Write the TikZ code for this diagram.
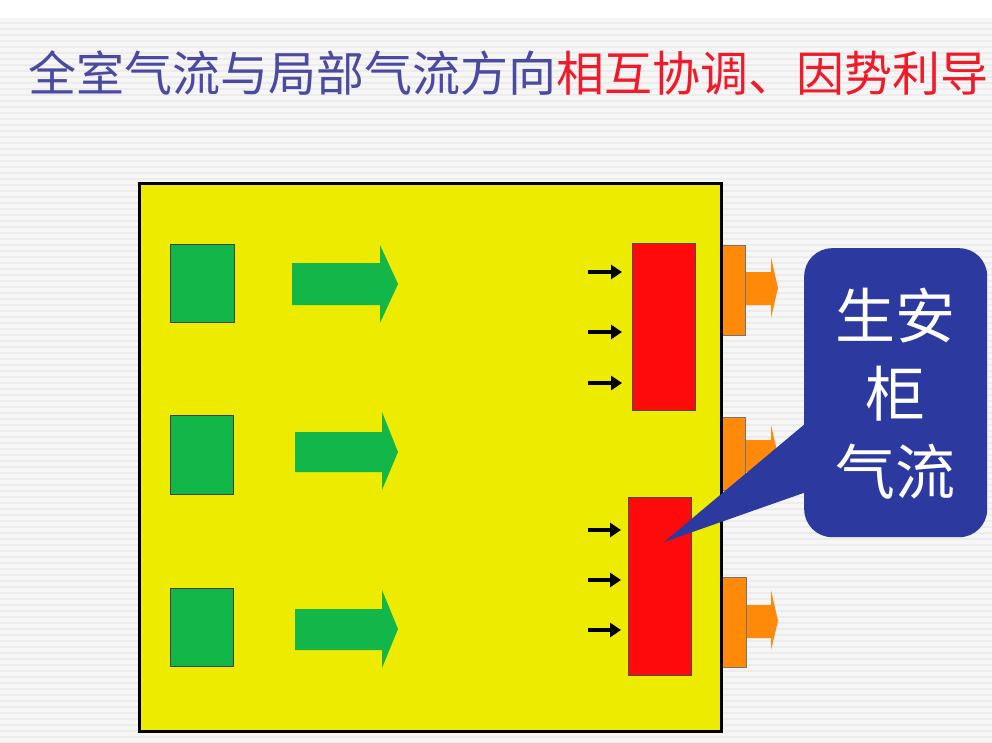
\documentclass[tikz,border=0pt]{standalone}
\usepackage{fontspec}
\newfontfamily\cjk{Noto Sans CJK SC}
\usetikzlibrary{arrows.meta}
\definecolor{bgc}{HTML}{F6F6F6}
\definecolor{stripec}{HTML}{ECECEC}
\definecolor{boxyellow}{HTML}{EDEB00}
\definecolor{gr}{HTML}{12B649}
\definecolor{rd}{HTML}{FF0A0A}
\definecolor{org}{HTML}{FF8A0A}
\definecolor{calloutblue}{HTML}{2C3AA0}
\definecolor{titleblue}{HTML}{4A4AA0}
\definecolor{titlered}{HTML}{EE1C2A}
\tikzset{
  px/.style={x=1pt,y=-1pt},
  greenbox/.style={draw=black!75,line width=1.2pt,fill=gr,inner sep=0pt},
  filterbox/.style={draw=black!70,line width=1.2pt,fill=rd,inner sep=0pt},
  smallarrow/.style={line width=4pt,shorten >=10pt,-{Triangle[length=11pt,width=14pt]}},
  greenarrow/.style={fill=gr},
  orangepart/.style={fill=org,draw=black!55,line width=0.6pt},
}
\begin{document}
\begin{tikzpicture}[px]
\useasboundingbox (0,0) rectangle (992,742);
% background
\fill[bgc] (0,0) rectangle (992,742);
\fill[white] (0,0) rectangle (992,18);
\foreach \y in {22,28,...,742} {\fill[stripec] (0,\y) rectangle (992,\y+2);}
% title
\node[anchor=west,inner sep=0pt,font=\cjk\fontsize{48}{50}\selectfont] (title) at (28,73)
  {\textcolor{titleblue}{全室气流与局部气流方向}\textcolor{titlered}{相互协调、因势利导}};
% orange exhaust parts (behind box edge)
\fill[org] (745,272) -- (771,272) -- (771,257) -- (778,288) -- (771,318) -- (771,305) -- (745,305) -- cycle;
\node[orangepart,minimum width=27pt,minimum height=90pt,anchor=north west] (tab1) at (718,245) {};
\fill[org] (745,440) -- (771,440) -- (771,425) -- (778,455) -- (771,485) -- (771,472) -- (745,472) -- cycle;
\node[orangepart,minimum width=27pt,minimum height=73pt,anchor=north west] (tab2) at (718,417) {};
\fill[org] (745,605) -- (771,605) -- (771,590) -- (778,621) -- (771,650) -- (771,638) -- (745,638) -- cycle;
\node[orangepart,minimum width=28pt,minimum height=90pt,anchor=north west] (tab3) at (718,577) {};
% room
\node[draw=black,line width=2.6pt,fill=boxyellow,minimum width=582pt,minimum height=548pt,anchor=north west,inner sep=0pt] (room) at (138,182) {};
% green supply squares
\node[greenbox,minimum width=64pt,minimum height=78pt,anchor=north west] (g1) at (170,244) {};
\node[greenbox,minimum width=63pt,minimum height=79pt,anchor=north west] (g2) at (170,415) {};
\node[greenbox,minimum width=63pt,minimum height=78pt,anchor=north west] (g3) at (170,588) {};
% green arrows
\fill[greenarrow] (292,263) -- (380,263) -- (380,245) -- (398,284) -- (380,323) -- (380,305) -- (292,305) -- cycle;
\fill[greenarrow] (295,432) -- (382,432) -- (382,412) -- (398,452) -- (382,490) -- (382,472) -- (295,472) -- cycle;
\fill[greenarrow] (295,609) -- (382,609) -- (382,590) -- (398,629) -- (382,668) -- (382,650) -- (295,650) -- cycle;
% red cabinets
\node[filterbox,minimum width=63pt,minimum height=167pt,anchor=north west] (r1) at (632,243) {};
\node[filterbox,minimum width=63pt,minimum height=178pt,anchor=north west] (r2) at (628,497) {};
% small black arrows
\foreach \i/\y in {a/272,b/332,c/383} {
  \coordinate (s\i) at (588,\y);
  \draw[smallarrow] (s\i) -- (r1.west |- s\i);
}
\foreach \i/\y in {d/530,e/580,f/630} {
  \coordinate (s\i) at (588,\y);
  \draw[smallarrow,shorten >=7pt] (s\i) -- (r2.west |- s\i);
}
% callout
\coordinate (tip) at (664,542);
\fill[calloutblue] (tip) -- (812,418) -- (812,490) -- cycle;
\node[fill=calloutblue,rounded corners=28pt,minimum width=183pt,minimum height=289pt,anchor=north west,inner sep=0pt] (callout) at (804,248) {};
\node[text=white,font=\cjk\fontsize{60}{78}\selectfont,align=center,inner sep=0pt] (ctext) at (895,394) {生安\\柜\\气流};
\end{tikzpicture}
\end{document}
